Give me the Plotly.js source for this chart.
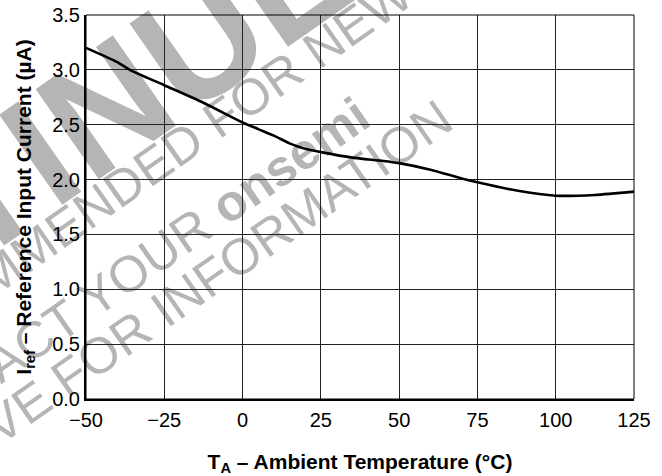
<!DOCTYPE html>
<html>
<head>
<meta charset="utf-8">
<script src="https://cdn.plot.ly/plotly-3.0.1.min.js"></script>
<style>html,body{margin:0;padding:0;background:#fff;}#chart{width:662px;height:476px;}</style>
</head>
<body>
<div id="chart"></div>
<script>
// Data
const temperatureC = [-50, -40, -36, -25, -12.5, 0, 5, 10, 15, 20, 25, 35, 45, 50, 60, 70, 75, 87.5, 100, 112.5, 125];
const irefMicroA  = [3.20, 3.07, 3.00, 2.86, 2.70, 2.52, 2.46, 2.40, 2.33, 2.28, 2.25, 2.20, 2.17, 2.15, 2.09, 2.01, 1.975, 1.90, 1.853, 1.86, 1.89];
const xTickVals = [-50, -25, 0, 25, 50, 75, 100, 125];
const yTickVals = [0, 0.5, 1.0, 1.5, 2.0, 2.5, 3.0, 3.5];
const yTickText = ['0.0', '0.5', '1.0', '1.5', '2.0', '2.5', '3.0', '3.5'];
const xTitle = 'T<sub>A</sub> \u2013 Ambient Temperature (\u00B0C)';
const yTitle = 'I<sub>ref</sub> \u2013 Reference Input Current (\u00B5A)';
const watermarkLines = [
  'DISCONTINUED',
  'NOT RECOMMENDED FOR NEW DESIGN',
  'CONTACT YOUR <b>onsemi</b>',
  'REPRESENTATIVE FOR INFORMATION'
];

const FONT = 'Liberation Sans, Arial, Helvetica, sans-serif';
const wmColor = '#b5b5b5';

function wm(text, cx, cy, size, bold) {
  return {
    type: 'rect', xref: 'paper', yref: 'paper', layer: 'below',
    x0: cx - 0.001, x1: cx + 0.001, y0: cy - 0.001, y1: cy + 0.001,
    line: {width: 0, color: 'rgba(0,0,0,0)'}, fillcolor: 'rgba(0,0,0,0)',
    label: {text: text, textangle: -35, textposition: 'middle center', padding: 0,
            font: {family: FONT, size: size, color: wmColor, weight: bold ? 'bold' : 'normal'}}
  };
}

const trace = {
  x: temperatureC, y: irefMicroA, type: 'scatter', mode: 'lines',
  line: {color: '#000', width: 2.6, shape: 'spline', smoothing: 0.7},
  hoverinfo: 'skip'
};

const layout = {
  width: 662, height: 476,
  margin: {l: 86, r: 28, t: 15, b: 77},
  paper_bgcolor: '#fff', plot_bgcolor: 'rgba(0,0,0,0)',
  showlegend: false,
  font: {family: FONT, color: '#000'},
  xaxis: {
    range: [-50, 125], tickvals: xTickVals, ticks: '', showgrid: true,
    gridcolor: '#222', gridwidth: 1, zeroline: false,
    showline: true, linecolor: '#000', linewidth: 2,
    ticklabelstandoff: 2,
    tickfont: {family: FONT, size: 20, color: '#000'},
    title: {text: xTitle, standoff: 24, font: {family: FONT, size: 21, color: '#000', weight: 'bold'}},
    automargin: false
  },
  yaxis: {
    range: [0, 3.5], tickvals: yTickVals, ticktext: yTickText, ticks: '', showgrid: true,
    gridcolor: '#222', gridwidth: 1, zeroline: false,
    showline: true, linecolor: '#000', linewidth: 2,
    tickfont: {family: FONT, size: 20, color: '#000'},
    title: {text: yTitle, standoff: 15, font: {family: FONT, size: 21, color: '#000', weight: 'bold'}},
    automargin: false
  },
  shapes: [
    wm(watermarkLines[0], -0.299, 0.474, 160, true),
    wm(watermarkLines[1], 0.148, 0.651, 51, false),
    wm(watermarkLines[2], 0.056, 0.320, 51, false),
    wm(watermarkLines[3], -0.051, 0.055, 51, false),
    {type: 'rect', xref: 'paper', yref: 'paper', x0: 0, x1: 1, y0: 0, y1: 1,
     line: {color: '#000', width: 1}, layer: 'above'}
  ]
};

Plotly.newPlot('chart', [trace], layout, {staticPlot: true, displayModeBar: false});
</script>
</body>
</html>
